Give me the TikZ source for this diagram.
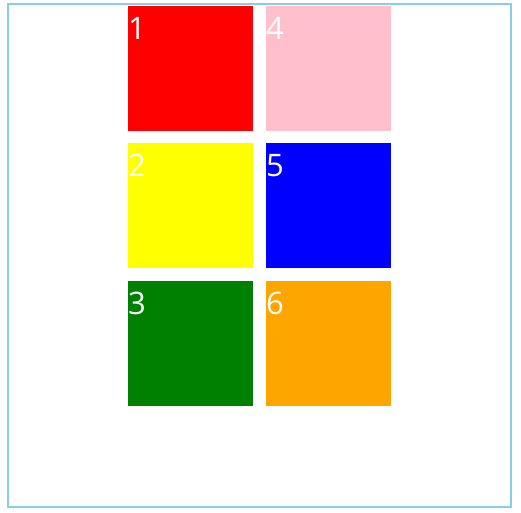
\documentclass[tikz,border=0pt]{standalone}
\usepackage{fontspec}
\setmainfont{Open Sans}
\definecolor{frame}{HTML}{87CEEB}
\definecolor{redc}{HTML}{FF0000}
\definecolor{pinkc}{HTML}{FFC0CB}
\definecolor{yellowc}{HTML}{FFFF00}
\definecolor{bluec}{HTML}{0000FF}
\definecolor{greenc}{HTML}{008000}
\definecolor{orangec}{HTML}{FFA500}
\begin{document}
\begin{tikzpicture}[x=1pt,y=-1pt,
  sq/.style={minimum width=125pt,minimum height=125pt,inner sep=0pt,anchor=north west,draw=none},
  num/.style={text=white,font=\fontsize{31}{31}\selectfont,anchor=base west,inner sep=0pt}]
\useasboundingbox (0,0) rectangle (521,512);
\draw[frame,line width=2pt] (8,4) rectangle (511,507);
\node[sq,fill=redc] (s1) at (128,6) {};
\node[sq,fill=pinkc] (s4) at (266,6) {};
\node[sq,fill=yellowc] (s2) at (128,143) {};
\node[sq,fill=bluec] (s5) at (266,143) {};
\node[sq,fill=greenc] (s3) at (128,281) {};
\node[sq,fill=orangec] (s6) at (266,281) {};
\node[num] (t1) at (128,39) {1};
\node[num] (t4) at (266,39) {4};
\node[num] (t2) at (128,176) {2};
\node[num] (t5) at (266,176) {5};
\node[num] (t3) at (128,314) {3};
\node[num] (t6) at (266,314) {6};
\end{tikzpicture}
\end{document}
